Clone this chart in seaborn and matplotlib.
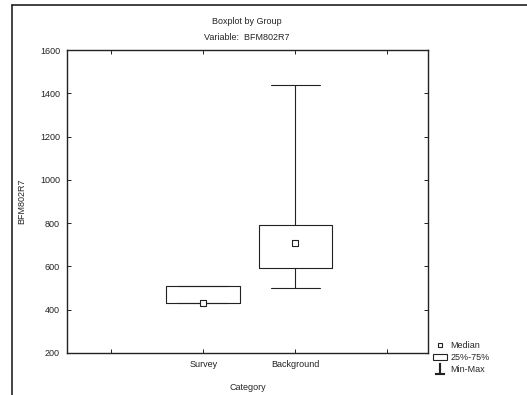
import matplotlib
matplotlib.use("Agg")
import matplotlib.pyplot as plt
import pandas as pd
import seaborn as sns
from matplotlib.lines import Line2D
from matplotlib.patches import Patch

# five-number summaries (min, q25, median, q75, max)
categories = ["Survey", "Background"]
survey = [431, 431, 431, 509, 509]
background = [500, 593, 708, 791, 1438]
medians = [431, 708]
yticks = [200, 400, 600, 800, 1000, 1200, 1400, 1600]
variable = "BFM802R7"

df = pd.DataFrame({
    "Category": ["Survey"] * len(survey) + ["Background"] * len(background),
    variable: survey + background,
})

sns.set_style("ticks")
plt.rcParams["font.family"] = ["Liberation Sans", "DejaVu Sans"]
plt.rcParams["font.size"] = 6.5

fig = plt.figure(figsize=(5.27, 3.95), dpi=100)
ax = fig.add_axes([67 / 527, 1 - 353 / 395, (428 - 67) / 527, (353 - 50) / 395])

ink = "#222222"
sns.boxplot(
    data=df, x="Category", y=variable, order=categories, ax=ax,
    whis=(0, 100), width=0.8, fill=False, color=ink, linewidth=0.8,
    showfliers=False, medianprops=dict(visible=False), capwidths=0.54,
)
sns.scatterplot(
    x=categories, y=medians, ax=ax, marker="s", s=14,
    facecolor="white", edgecolor=ink, linewidth=0.8, zorder=5,
)

ax.set_xlim(-1.48, 2.44)
ax.set_ylim(200, 1600)
ax.set_yticks(yticks)
ax.set_xticks([-1, 0, 1, 2])
ax.set_xticklabels(["", "Survey", "Background", ""])
ax.tick_params(direction="in", length=3, width=0.7, top=True, right=True,
               labelsize=6.5, colors=ink, pad=5)
for s in ax.spines.values():
    s.set_linewidth(1.0)
    s.set_color(ink)
    s.set_visible(True)
ax.set_xlabel("Category", fontsize=6.5, labelpad=10)
ax.set_ylabel(variable, fontsize=6.5, labelpad=10)

fig.text(247 / 527, 1 - 21 / 395, "Boxplot by Group", ha="center", va="center", fontsize=6.5)
fig.text(247 / 527, 1 - 37 / 395, "Variable:  " + variable, ha="center", va="center", fontsize=6.5)

handles = [
    Line2D([], [], marker="s", ls="none", mfc="white", mec=ink, ms=3.5, mew=0.8),
    Patch(facecolor="white", edgecolor=ink, linewidth=0.8),
    Line2D([], [], marker=r"$\perp$", ls="none", color=ink, ms=8, mew=0.1),
]
fig.legend(handles, ["Median", "25%-75%", "Min-Max"], loc="lower left",
           bbox_to_anchor=(427 / 527, 1 - 380 / 395), frameon=False,
           fontsize=6.5, handlelength=1.5, handletextpad=0.4, labelspacing=0.3,
           borderpad=0.2)

# outer frame of the exported figure
fig.add_artist(Line2D([12 / 527, 12 / 527], [0, 1 - 5 / 395], transform=fig.transFigure,
                      color=ink, linewidth=1.2))
fig.add_artist(Line2D([12 / 527, 1], [1 - 5 / 395, 1 - 5 / 395], transform=fig.transFigure,
                      color=ink, linewidth=1.2))

fig.savefig("out.png", dpi=100)
